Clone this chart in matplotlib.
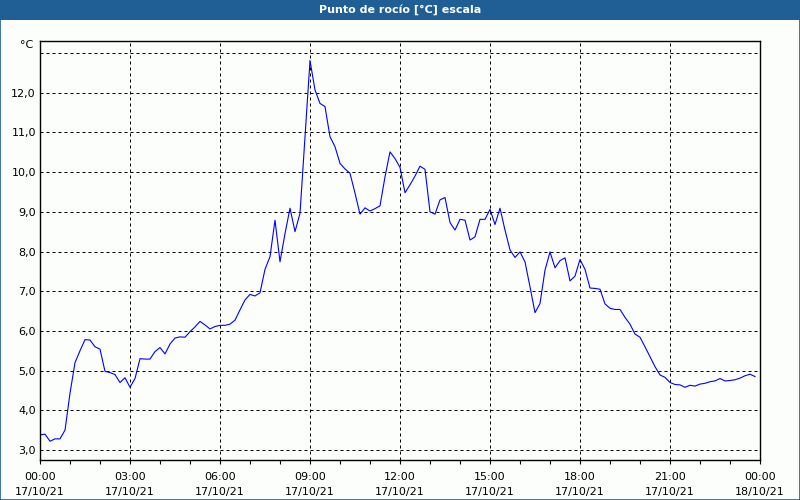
#!/usr/bin/env python

import matplotlib
matplotlib.use("Agg")
import matplotlib.pyplot as plt
import matplotlib.dates as mdates
from matplotlib.patches import Rectangle
import pandas as pd

# Dew point readings, one every 10 minutes on 17/10/21 (six per row = one hour)
dew_point = [
    3.38, 3.40, 3.22, 3.28, 3.28, 3.50,
    4.43, 5.20, 5.50, 5.78, 5.77, 5.60,
    5.54, 4.98, 4.95, 4.90, 4.70, 4.82,
    4.58, 4.80, 5.30, 5.29, 5.29, 5.48,
    5.58, 5.42, 5.67, 5.82, 5.85, 5.84,
    5.98, 6.10, 6.24, 6.15, 6.05, 6.11,
    6.14, 6.14, 6.17, 6.27, 6.53, 6.78,
    6.92, 6.88, 6.96, 7.55, 7.87, 8.79,
    7.74, 8.45, 9.09, 8.50, 8.96, 10.90,
    12.81, 12.07, 11.73, 11.65, 10.89, 10.64,
    10.22, 10.08, 9.97, 9.47, 8.94, 9.10,
    9.02, 9.08, 9.15, 9.88, 10.51, 10.34,
    10.12, 9.48, 9.68, 9.90, 10.15, 10.07,
    9.00, 8.94, 9.30, 9.36, 8.73, 8.54,
    8.81, 8.79, 8.29, 8.37, 8.81, 8.81,
    9.06, 8.68, 9.09, 8.54, 8.04, 7.85,
    7.99, 7.74, 7.11, 6.46, 6.69, 7.53,
    7.99, 7.59, 7.77, 7.84, 7.26, 7.38,
    7.80, 7.55, 7.08, 7.07, 7.05, 6.68,
    6.57, 6.54, 6.54, 6.34, 6.17, 5.92,
    5.84, 5.60, 5.35, 5.10, 4.89, 4.83,
    4.70, 4.65, 4.64, 4.58, 4.63, 4.61,
    4.66, 4.68, 4.72, 4.74, 4.80, 4.74,
    4.75, 4.77, 4.81, 4.87, 4.91, 4.85,
]
times = pd.date_range("2021-10-17 00:00", periods=len(dew_point), freq="10min")

y_ticks = [3, 4, 5, 6, 7, 8, 9, 10, 11, 12, 13]
y_labels = ["3,0", "4,0", "5,0", "6,0", "7,0", "8,0", "9,0", "10,0", "11,0", "12,0", ""]

title = "Punto de rocío [°C] escala"
unit = "°C"

BAR = "#1f5f96"
BG = "#fcfefc"

plt.rcParams["font.family"] = ["DejaVu Sans"]
plt.rcParams["font.size"] = 8

fig = plt.figure(figsize=(8, 5), dpi=100)
fig.patch.set_facecolor(BG)

# Title bar and thin window border
fig.patches.append(Rectangle((0, 0.96), 1, 0.04, transform=fig.transFigure,
                             facecolor=BAR, edgecolor="none", zorder=0))
fig.patches.append(Rectangle((0.0006, 0.001), 0.9988, 0.998, transform=fig.transFigure,
                             facecolor="none", edgecolor=BAR, linewidth=1.2, zorder=0))
fig.text(0.5, 0.98, title, color="white", fontweight="bold", fontsize=8,
         ha="center", va="center")

ax = fig.add_axes([0.05, 0.08, 0.90, 0.8386])
ax.set_facecolor(BG)
ax.plot(times, dew_point, color="#0000ff", linewidth=0.8)

ax.set_xlim(pd.Timestamp("2021-10-17 00:00"), pd.Timestamp("2021-10-18 00:00"))
ax.set_ylim(2.748, 13.31)

ax.xaxis.set_major_locator(mdates.HourLocator(byhour=range(0, 24, 3)))
ax.xaxis.set_minor_locator(mdates.HourLocator())
ax.xaxis.set_major_formatter(mdates.DateFormatter("%H:%M\n%d/%m/%y"))
ax.set_yticks(y_ticks)
ax.set_yticklabels(y_labels)

ax.tick_params(axis="x", which="both", direction="out", length=3, width=0.8,
               colors="black", pad=6)
ax.tick_params(axis="y", length=0, pad=3)
for lbl in ax.get_xticklabels():
    lbl.set_linespacing(1.6)

ax.grid(True, which="major", color="black", linewidth=0.72, linestyle=(0, (3, 3)))
for s in ax.spines.values():
    s.set_color("black")
    s.set_linewidth(1.0)

fig.text(27 / 800, 1 - 45 / 500, unit, ha="center", va="center", fontsize=8)

fig.savefig("out.png", dpi=100, facecolor=fig.get_facecolor())
